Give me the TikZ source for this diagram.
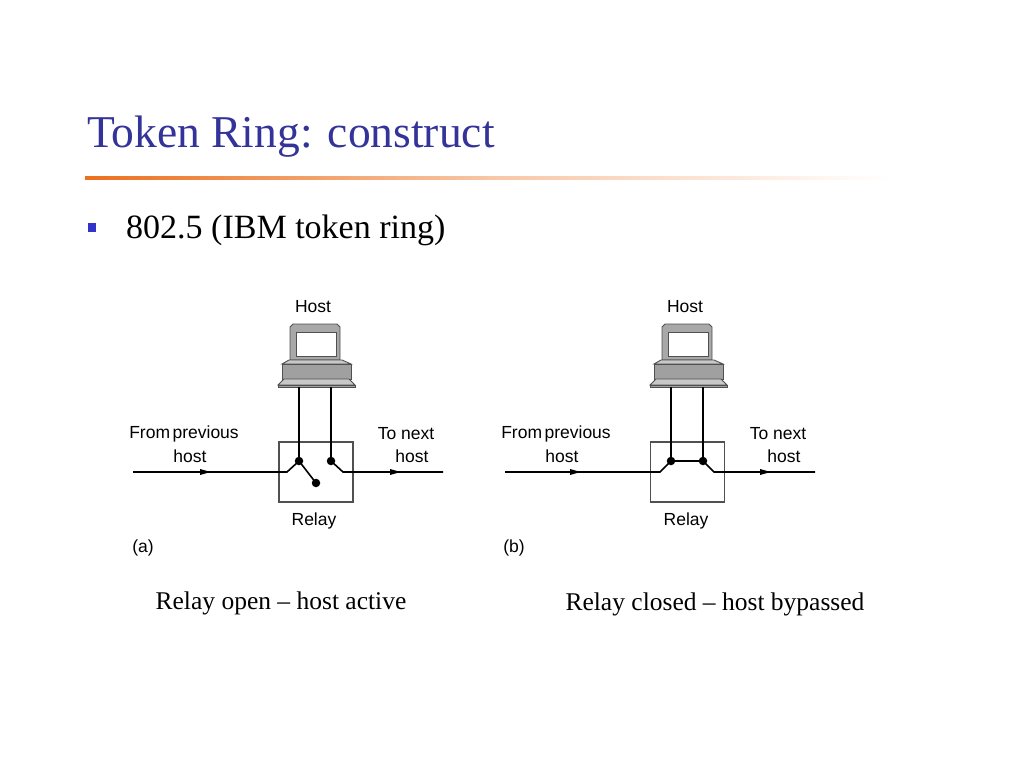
\documentclass[tikz,border=0pt]{standalone}
\usepackage{fontspec}
\setmainfont{Liberation Serif}
\newfontfamily\hv{Liberation Sans}
\usetikzlibrary{arrows.meta}
\definecolor{titleblue}{RGB}{51,51,153}
\definecolor{bulletblue}{RGB}{51,51,204}
\definecolor{rule}{RGB}{236,112,30}
\definecolor{bezel}{RGB}{168,168,168}
\definecolor{facelight}{RGB}{200,200,200}
\definecolor{facedark}{RGB}{160,160,160}
\definecolor{edge}{RGB}{80,80,80}
\tikzset{
  wire/.style={line width=1.6pt, black},
  arr/.style={wire, -{Triangle[length=11pt,width=5.5pt]}},
  relaybox/.style={draw=edge, line width=1.5pt, minimum width=74pt, minimum height=60pt, inner sep=0pt},
  dot/.style={circle, fill=black, minimum size=8.5pt, inner sep=0pt},
  lbl/.style={font=\hv\fontsize{17.5}{20}\selectfont, inner sep=0pt},
  caption/.style={font=\fontsize{25.5}{30}\selectfont, inner sep=0pt},
  hostpart/.style={draw=edge, line width=0.9pt},
}
\newcommand{\monitor}[1]{%
  \begin{scope}[shift={(#1,0)}]
    \draw[hostpart, fill=bezel] (-23,327) -- (-20,324) -- (24,324) -- (27,327) -- (27,360) -- (-23,360) -- cycle;
    \draw[hostpart, fill=white] (-17,332) rectangle (23,356);
    \draw[hostpart, fill=facelight] (-24,360) -- (29,360) -- (38,364) -- (-31,364) -- cycle;
    \draw[hostpart, fill=facedark] (-31,364) rectangle (38,379);
    \draw[hostpart, fill=facelight] (-29,379) -- (36,379) -- (42,385) -- (-35,385) -- cycle;
    \draw[hostpart, fill=facedark] (-35,385) rectangle (42,387.5);
  \end{scope}}
\begin{document}
\begin{tikzpicture}[x=1pt,y=-1pt]
\useasboundingbox[fill=white] (0,0) rectangle (1024,768);

% title and rule
\node[anchor=base west, inner sep=0pt, text=titleblue, font=\fontsize{45.5}{50}\selectfont] (title) at (87,147) {Token Ring: construct};
\shade[left color=rule, right color=white, middle color=rule!40!white] (85,176.5) rectangle (890,179.5);
\node[fill=bulletblue, minimum width=8pt, minimum height=9pt, inner sep=0pt] (bullet) at (92,227) {};
\node[anchor=base west, inner sep=0pt, font=\fontsize{34}{40}\selectfont] (item) at (126,238) {802.5 (IBM token ring)};

% ---------------- (a) ----------------
\monitor{313}
\node[lbl] (hosta) at (313,307) {Host};
\coordinate (hla) at (299,387);
\coordinate (hra) at (331,387);
\node[relaybox] (ra) at (316,472) {};
\node[dot] (da1) at (299,461) {};
\node[dot] (da2) at (331,461) {};
\node[dot] (da3) at (316,483) {};
\coordinate (ina) at (133,472);
\coordinate (ma) at (211,472);
\coordinate (outa) at (443,472);
\coordinate (mb) at (401,472);
\draw[wire] (hla) -- (da1.center);
\draw[wire] (hra) -- (da2.center);
\draw[wire] (ina) -- (ra.west) -- (287,472) -- (da1.center) -- (da3.center);
\draw[arr] (ina) -- (ma);
\draw[wire] (da2.center) -- (343,472) -- (ra.east) -- (outa);
\draw[arr] (ra.east) -- (mb);
\node[lbl] (fpa) at (184,434) {From\hspace{2.5pt}previous};
\node[lbl] (fha) at (190,456) {host};
\node[lbl] (tna) at (406,434) {To next};
\node[lbl] (tha) at (412,456) {host};
\node[lbl] (rla) at (314,521) {Relay};
\node[lbl] (taga) at (143,548) {(a)};
\node[caption] (capa) at (281,603) {Relay open -- host active};

% ---------------- (b) ----------------
\monitor{685}
\node[lbl] (hostb) at (685,307) {Host};
\coordinate (hlb) at (671,387);
\coordinate (hrb) at (703,387);
\node[relaybox] (rb) at (687.5,472) {};
\node[dot] (db1) at (671,461) {};
\node[dot] (db2) at (703,461) {};
\coordinate (inb) at (505,472);
\coordinate (mc) at (581,472);
\coordinate (outb) at (815,472);
\coordinate (md) at (771,472);
\draw[wire] (hlb) -- (db1.center);
\draw[wire] (hrb) -- (db2.center);
\draw[wire] (inb) -- (rb.west) -- (660,472) -- (db1.center) -- (db2.center) -- (714,472) -- (rb.east) -- (outb);
\draw[arr] (inb) -- (mc);
\draw[arr] (rb.east) -- (md);
\node[lbl] (fpb) at (556,434) {From\hspace{2.5pt}previous};
\node[lbl] (fhb) at (562,456) {host};
\node[lbl] (tnb) at (778,434) {To next};
\node[lbl] (thb) at (784,456) {host};
\node[lbl] (rlb) at (686,521) {Relay};
\node[lbl] (tagb) at (514,548) {(b)};
\node[caption] (capb) at (715,604) {Relay closed -- host bypassed};
\end{tikzpicture}
\end{document}
